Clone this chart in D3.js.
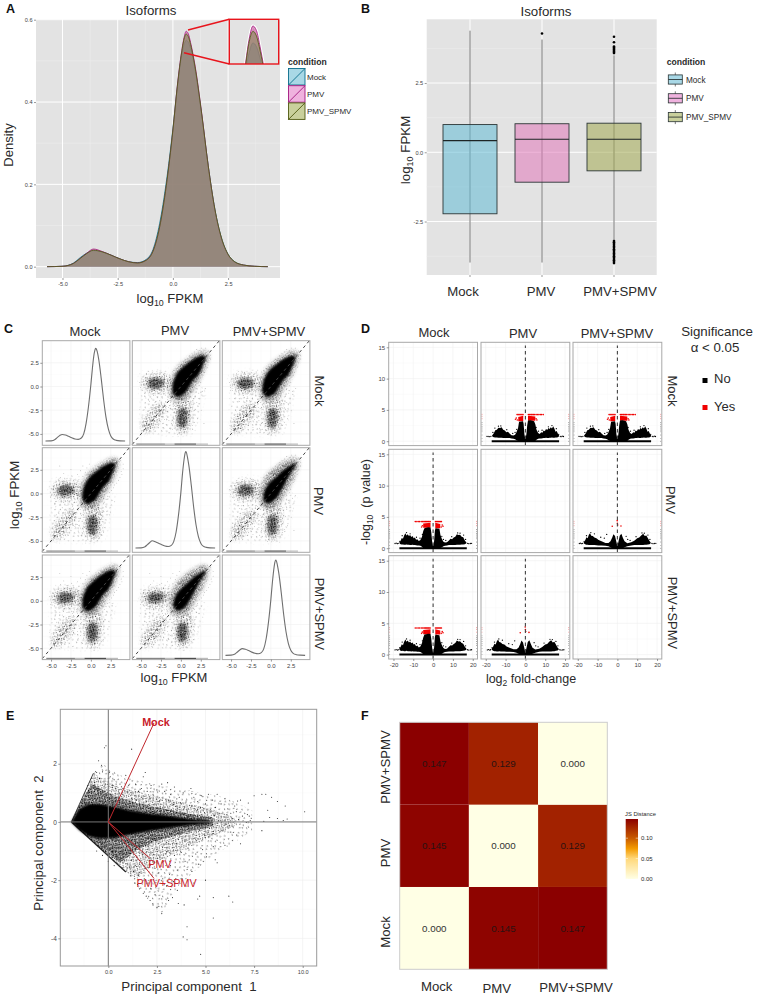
<!DOCTYPE html>
<html>
<head>
<meta charset="utf-8">
<script src="https://cdn.jsdelivr.net/npm/d3@7"></script>
<style>
  html, body { margin: 0; padding: 0; background: #fff; }
  svg { display: block; }
  text { font-family: "Liberation Sans", Arial, sans-serif; white-space: pre; }
</style>
</head>
<body>
<svg id="fig" width="757" height="996"></svg>
<script>
// ---- values ----
var conditions = ["Mock", "PMV", "PMV+SPMV"];
var legendNames = ["Mock", "PMV", "PMV_SPMV"];

// A: density curves
var densityX =    [-5.7, -5, -4.5, -4.2, -3.9, -3.6, -3.2, -2.8, -2.4, -2, -1.6, -1.2, -0.9, -0.6, -0.3, 0, 0.2, 0.4, 0.5, 0.6, 0.7, 0.8, 1, 1.3, 1.6, 1.9, 2.2, 2.5, 2.8, 3.2, 3.7, 4.3];
var densityMock = [0, 0.001, 0.009, 0.022, 0.033, 0.039, 0.036, 0.028, 0.019, 0.012, 0.01, 0.018, 0.042, 0.105, 0.205, 0.335, 0.435, 0.515, 0.538, 0.55, 0.545, 0.53, 0.48, 0.37, 0.245, 0.14, 0.07, 0.03, 0.012, 0.004, 0.001, 0];
var densityPmv =  [0, 0.001, 0.008, 0.02, 0.033, 0.043, 0.037, 0.028, 0.019, 0.012, 0.009, 0.016, 0.038, 0.095, 0.195, 0.33, 0.44, 0.525, 0.556, 0.572, 0.566, 0.545, 0.49, 0.375, 0.245, 0.138, 0.068, 0.029, 0.011, 0.004, 0.001, 0];
var densitySpmv = [0, 0.001, 0.008, 0.02, 0.032, 0.04, 0.036, 0.028, 0.019, 0.012, 0.009, 0.016, 0.038, 0.097, 0.197, 0.332, 0.438, 0.522, 0.552, 0.565, 0.559, 0.54, 0.486, 0.373, 0.245, 0.14, 0.07, 0.03, 0.012, 0.004, 0.001, 0];
var densityTicksX = [-5, -2.5, 0, 2.5];
var densityMinorX = [-3.75, -1.25, 1.25, 3.75];
var densityTicksY = [0, 0.2, 0.4, 0.6];
var densityMinorY = [0.1, 0.3, 0.5];

// B: boxplots
var boxQ1 = [-2.22, -1.08, -0.67];
var boxMedian = [0.42, 0.47, 0.47];
var boxQ3 = [1.0, 1.03, 1.05];
var whiskerLow = [-3.98, -3.98, -3.18];
var whiskerHigh = [4.39, 4.07, 3.5];
var boxOutliers = [[], [4.29],
  [4.17, 3.97, 3.82, 3.78, 3.74, 3.7, 3.66, 3.62, 3.58, -3.2, -3.25, -3.3, -3.35, -3.4, -3.45, -3.5, -3.55, -3.6, -3.65, -3.7, -3.75, -3.8, -3.85, -3.9, -3.95, -4]];
var boxTicks = [-2.5, 0, 2.5];
var boxMinor = [-3.75, -1.25, 1.25, 3.75];

// stipple tile for the overplotted clouds, offsets within one tile
var stippleDots = [[.03,.07],[.17,.02],[.29,.11],[.41,.04],[.55,.09],[.68,.01],[.79,.13],[.93,.06],[.08,.19],[.22,.24],[.36,.17],[.49,.22],[.61,.18],[.74,.26],[.87,.2],[.98,.28],[.02,.33],[.15,.38],[.27,.31],[.43,.36],[.56,.3],[.66,.39],[.81,.34],[.92,.41],[.09,.47],[.21,.52],[.34,.45],[.47,.49],[.59,.44],[.72,.51],[.85,.47],[.97,.54],[.04,.6],[.18,.65],[.3,.58],[.39,.63],[.53,.57],[.65,.62],[.77,.59],[.9,.66],[.12,.73],[.24,.78],[.35,.71],[.46,.76],[.58,.7],[.7,.75],[.83,.72],[.96,.79],[.01,.85],[.14,.9],[.26,.84],[.38,.89],[.5,.83],[.63,.88],[.75,.82],[.88,.91],[.07,.97],[.2,.95],[.32,.99],[.44,.94],[.57,.96],[.69,.93],[.82,.98],[.94,.95]];

// C: pairwise scatter, dense parts as outlines in data units, sparse points one by one
var pairTicks = [-5, -2.5, 0, 2.5];
var pairMinor = [-3.75, -1.25, 1.25, 3.75];
var sparseField = [[-5.1,1.2],[-5,-1],[-4.9,-4.8],[-3,-5],[1.3,-5],[2.4,-2.5],[3,-.2],[1.2,-.4],[-.6,-1],[-1,1.4],[-3,1.7]];
var cloudHalo = [[-1.3,-1],[-1.2,.5],[-.6,1.8],[.4,2.6],[1.6,3.3],[2.9,3.75],[3.5,3.3],[3.1,2.1],[2.5,1],[1.9,.2],[1.3,-.7],[.3,-1.4],[-.7,-1.5]];
var cloudCore = [[-1.05,-.6],[-.95,.5],[-.4,1.5],[.4,2.15],[1.3,2.75],[2.5,3.25],[3.1,3.05],[2.7,2.1],[2.2,1.2],[1.6,.7],[1.1,.05],[.5,-.7],[-.4,-1.1]];
var cloudTight = [[-.95,-.6],[-.75,.4],[-.15,1.15],[.65,1.75],[1.7,2.55],[2.9,3.15],[3.1,2.95],[2.4,2.05],[1.8,1.1],[1.3,.35],[.85,-.3],[.3,-.8],[-.4,-1.05]];
var leftClusterWide = [[-4.9,.3],[-4.2,1.1],[-3,1.3],[-1.7,1.1],[-1,.6],[-1.3,-.2],[-2.5,-.6],[-3.8,-.7]];
var leftClusterDark = [[-4.2,.3],[-3.7,.8],[-2.9,.85],[-2.2,.6],[-2.3,.05],[-3.1,-.2],[-3.8,-.15]];
var bottomClusterWide = [[-.6,-1.3],[-.7,-3],[-.6,-4.3],[.2,-4.9],[1,-4.4],[1.3,-3],[1.3,-1.5],[.6,-1]];
var bottomClusterDark = [[-.3,-2.6],[-.4,-3.6],[-.1,-4.3],[.5,-4.2],[.8,-3.4],[.7,-2.5],[.2,-2.3]];
var lowerClusterWide = [[-4.7,-4.9],[-4.9,-3.9],[-3.8,-2.6],[-2.7,-1.8],[-1.9,-2.3],[-2.6,-3.4],[-3.6,-4.5]];
var scatterStray = [
  [-5.2,.4],[-5.05,-.1],[-4.95,.8],[-4.8,-.4],[-4.7,.2],[-4.65,1.1],[-4.55,-.7],[-4.5,.55],[-4.4,-1.2],[-4.3,1.35],[-4.25,-.2],[-4.1,1.6],[-4,-.9],[-3.95,-1.6],[-3.85,1.15],[-3.7,-.55],[-3.65,-1.3],[-3.6,1.5],[-3.5,-2],[-3.45,-.95],[-3.3,1.35],[-3.25,-1.7],[-3.2,-.5],[-3.1,-2.3],[-3,1.55],[-2.95,-1.1],[-2.85,-.7],[-2.8,-2.05],[-2.7,1.3],[-2.65,-1.5],[-2.5,-.85],[-2.45,1.5],[-2.4,-2.4],[-2.3,-1.2],[-2.2,1.25],[-2.15,-.5],[-2.05,-1.85],[-2,1.4],[-1.95,-.9],[-1.85,-2.6],[-1.8,1.1],[-1.7,-1.35],[-1.6,-.4],[-1.55,-2.2],[-1.45,.95],[-1.4,-.85],[-1.3,-1.7],[-1.25,-3],[-1.15,-1.1],[-1.1,-2.4],[-1,-.8],[-.95,-3.4],[-.9,-1.8],[-.85,1.4],[-.8,-2.7],[-.7,-1.3],
  [-4.75,-4.6],[-4.6,-3.7],[-4.55,-4.2],[-4.4,-3.2],[-4.35,-4.7],[-4.25,-3.8],[-4.15,-2.9],[-4.1,-4.3],[-3.95,-3.4],[-3.9,-2.5],[-3.8,-4.4],[-3.75,-3.1],[-3.65,-3.9],[-3.55,-2.7],[-3.5,-3.5],[-3.4,-4.5],[-3.35,-2.2],[-3.25,-3.2],[-3.15,-4],[-3.05,-2.8],[-2.95,-3.5],[-2.9,-2.1],[-2.8,-4.1],[-2.7,-3],[-2.6,-2.5],[-2.55,-3.7],[-2.45,-1.9],[-2.35,-3.2],[-2.25,-4.3],[-2.15,-2.8],[-2.05,-3.5],[-1.95,-2.2],[-1.85,-4],[-1.75,-3.1],[-1.65,-2.6],[-1.5,-3.6],[-1.4,-4.4],[-1.35,-2.3],[-1.2,-3.9],[-1.05,-4.5],[-.95,-2.1],
  [-.65,-3.9],[-.6,-2.4],[-.55,-4.6],[-.45,-1.7],[-.4,-5.05],[-.3,-1.4],[-.2,-4.9],[0,-1.8],[.1,-5.1],[.3,-1.2],[.5,-4.9],[.75,-4.7],[.85,-1.6],[1,-2.6],[1.05,-3.9],[1.15,-4.5],[1.2,-1.1],[1.3,-3.3],[1.4,-2.2],[1.45,-4.1],[1.5,-1.5],[1.6,-3],[1.7,-3.8],[1.8,-1],[1.85,-2.4],[2,-1.7],[2.1,-3.4],[2.25,-.7],[2.4,-1.3],[2.55,-2.5],[2.7,-.5],[2.9,-1],[3.1,-.2],[2.9,-3.9],
  [-.9,1.7],[-.6,1.9],[-.3,2.1],[-.1,1.65],[.1,2.35],[.3,2.6],[.35,2],[.6,2.85],[.9,2.95],[1.1,3.25],[1.4,3.45],[1.7,3.65],[2,3.9],[2.3,3.8],[2.6,4.05],[3.1,4.05],[3.5,3.75],[3.7,3.3],[3.75,2.9],[3.5,2.5],[3.3,2],[3,1.5],[2.8,1.2],[2.5,.4],[2.3,.1],[2,-.25],[1.9,.45]
];
var rugRanges = [[-5.6,-2,0.55], [-2,-0.8,0.3], [-0.8,1.9,0.8], [1.9,3.4,0.3]];

// D: volcano plots as [log2 fc, lower edge, upper edge]
var volcanoTicksX = [-20, -10, 0, 10, 20];
var volcanoMinorX = [-15, -5, 5, 15];
var volcanoTicksY = [0, 5, 10, 15];
var volcanoMinorY = [2.5, 7.5, 12.5];
var baselineExtent = [-17, 17];
var bandWide = [[-17,.78,.92],[-16.4,.62,1.2],[-15.8,.58,1.65],[-15.2,.6,1.5],[-14.6,.55,2.05],[-14,.55,2.4],[-13.4,.6,2.05],[-12.8,.55,2.25],[-12.2,.55,1.95],[-11.6,.52,2.1],[-11,.5,1.8],[-10.4,.55,1.95],[-9.8,.5,1.6],[-9.2,.5,1.7],[-8.6,.48,1.35],[-8,.45,1.45],[-7.2,.45,1.15],[-6.4,.4,1.3],[-5.6,.25,1.85],[-5,.05,2.7],[-4.4,0,3.2],[-3.6,0,3.25],[-2.5,0,3.35],[-1.3,0,3.3],[-.9,0,2.5],[-.5,0,1.1],[0,0,.35],[.5,0,1.1],[.9,0,2.8],[1.2,0,3.2],[2.2,0,3.15],[3.2,0,3.1],[3.7,.05,2.1],[4.5,.15,1.45],[5.2,.3,1.05],[6,.4,.9],[7,.45,.95],[8,.5,1.25],[8.8,.5,1.5],[9.6,.5,1.45],[10.4,.5,1.7],[11.2,.52,1.85],[12,.55,2.25],[12.8,.55,2.1],[13.6,.55,2.15],[14.4,.58,1.85],[15.2,.6,1.75],[16,.65,1.25],[16.8,.78,.92]];
var bandNarrow = [[-17,.78,.92],[-16.3,.62,1.25],[-15.6,.55,1.75],[-15,.55,1.6],[-14.4,.5,2.15],[-13.8,.5,2.4],[-13.2,.52,2],[-12.4,.5,1.95],[-11.6,.5,1.7],[-10.6,.48,1.6],[-9.5,.45,1.3],[-8,.45,1.1],[-6,.4,.85],[-4.5,.3,.85],[-3.5,.15,1.1],[-2.6,0,1.7],[-2,0,2.25],[-1.2,0,1.95],[-.5,0,1],[0,0,.3],[.5,0,1],[1.2,0,2],[2,0,2.3],[2.8,0,1.65],[3.6,.15,1.1],[5,.3,.8],[7,.45,.95],[8.5,.5,1.2],[10,.5,1.6],[11,.5,1.7],[12,.5,2.05],[13,.5,2.3],[13.8,.55,1.95],[14.6,.55,2.05],[15.4,.6,1.6],[16.2,.65,1.15],[16.8,.78,.92]];
var volcanoStrayBlack = [[-19.2,.75],[-18.6,.8],[-18,.72],[-17.6,.78],[-16.8,1.1],[-15.6,2],[-13.4,2.5],[-11.6,2.3],[-8.4,1.75],[-6.6,1.6],[-5.4,2.2],[4.4,1.9],[5.2,1.4],[6.4,1.25],[9.4,1.85],[12.4,2.45],[13.6,2.4],[15.4,2.1],[16.4,1.4],[17.4,.78],[18,.72],[18.8,.75],[19.4,.78]];
var redBlocksMany = [[[-5,3.25,3.95],[-1.3,3.25,4.05]], [[1.1,3.2,4.05],[3.6,3.2,3.85]]];
var redBlocksFew = [];
var volcanoRedMany = [[-9,4.25],[-8.2,4.25],[-7.5,4.25],[-6.8,4.25],[-6,4.25],[-5.4,4.25],[-4.7,4.25],[-4.2,4.25],[-3.8,4.25],[-3.3,4.25],[-2.9,4.25],[-2.4,4.25],[-2,4.25],[-1.5,4.25],[1.2,4.25],[1.7,4.25],[2.2,4.25],[2.7,4.25],[3.2,4.25],[3.7,4.25],[4.2,4.25],[4.6,3.7],[4.1,3.4],[5,3.5],[-5.4,3.6],[-5.8,3.4]];
var volcanoRedFew = [[-2.6,3.5],[-.1,4.4],[0,4],[.15,3.7],[1.8,3.55]];
var edgeBlackY = [0, .45, 1, 1.5, 1.8, 2.1, 2.4, 2.7, 3];
var edgeRedY = [3.6, 4, 4.3];

// E: biplot
var pcaTicksX = [0, 2.5, 5, 7.5, 10];
var pcaMinorX = [-1.25, 1.25, 3.75, 6.25, 8.75];
var pcaTicksY = [-4, -2, 0, 2];
var pcaMinorY = [-3, -1, 1, 3];
var pcaFan = [[-1.9,0],[-.77,1.67],[-.3,2],[.6,1.6],[2,1.35],[4,1.1],[6,.85],[7.4,.4],[7.4,-.3],[6,-.9],[4.6,-1.6],[3.6,-2.2],[2.75,-3.15],[2.2,-2.8],[.9,-1.72]];
var pcaHalo = [[-1.9,0],[-.77,1.67],[-.3,1.5],[.5,1.2],[1.5,1.05],[2.7,.85],[4,.65],[5.5,.4],[6.5,.15],[6.5,-.15],[5.2,-.55],[3.5,-1.05],[2.2,-1.5],[1.5,-1.95],[.9,-1.72]];
var pcaInner = [[-1.9,0],[-1.4,.7],[-.85,1.3],[-.3,1.1],[.5,.85],[1.5,.65],[2.7,.48],[4,.3],[5.4,.15],[5.4,-.15],[4,-.36],[2.7,-.6],[1.5,-.95],[.6,-1.4],[-.3,-.98],[-1,-.55]];
var pcaCore = [[-1.9,0],[-1.5,.45],[-1,.62],[-.4,.62],[.3,.52],[1.2,.38],[2.2,.28],[3.2,.2],[4.2,.11],[5.2,.05],[5.2,-.05],[4.2,-.11],[3.2,-.2],[2.2,-.3],[1.2,-.42],[.3,-.55],[-.4,-.58],[-1,-.5],[-1.5,-.28]];
var pcaUpperEdge = [[-1.9,0],[-.77,1.67]];
var pcaLowerEdge = [[-1.9,0],[.9,-1.72]];
var pcaVectors = [[2.35,3.4], [2.14,-1.25], [2.35,-1.94]];
var pcaLabelAt = [[2.45,3.42], [2.66,-1.45], [3,-2.1]];
var pcaStray = [
  [-.2,2.55],[-.12,2.62],[1.2,2.5],[-.5,2.1],[-.35,1.95],[.05,1.7],[.1,1.55],[.9,1.6],[1.9,1.7],[1.8,1.55],[.6,1.3],[.3,1.45],[.75,1.15],[1.05,1.25],[1.4,1.3],[1.55,1.05],[1.7,1.15],[2,1.05],[2.2,1.25],[2.3,.95],[2.5,1.1],[2.75,1.3],[2.9,1.05],[3.05,1.35],[3.2,.95],[3.4,1.2],[3.65,.85],[3.85,1],[4,.72],[4.25,1.15],[4.4,.85],[4.6,.7],[4.8,.9],[5,.62],[5.15,.95],[5.35,.75],[5.5,.5],[5.6,.95],[5.8,.62],[6,.8],[6.15,.45],[6.3,.3],[6.5,.55],[6.65,.72],[6.8,.75],[7.2,.65],[7.25,.2],[7.5,.9],[7.9,.95],[8.1,.95],[8.4,.85],[8.7,.7],[9.1,.55],[10.1,.35],[9.2,.1],[9,.05],[8.7,.12],[8.2,.4],[8.3,.15],[8,.02],[7.9,-.3],[7.3,.05],
  [2.6,.7],[2.85,.55],[3.1,.75],[3.35,.6],[3.55,.45],[3.75,.62],[4.05,.4],[4.3,.55],[4.55,.38],[4.75,.5],[4.95,.32],[5.25,.42],[5.45,.22],[5.7,.3],[5.95,.18],[6.1,.25],[6.4,.12],[6.7,.08],[6.9,.2],[7.1,-.02],[2.7,-.55],[3,-.7],[3.25,-.5],[3.5,-.75],[3.7,-.42],[3.95,-.62],[4.2,-.35],[4.45,-.55],[4.7,-.28],[4.95,-.46],[5.2,-.22],[5.4,-.4],[5.6,-.12],[5.85,-.3],[6.05,-.08],[6.3,-.35],[6.6,-.45],[6.8,-.75],[6,-.8],[5.9,-.2],[5.5,-1.3],[5.6,-1.4],[5.4,-.85],
  [2.5,-.95],[2.65,-1.2],[2.85,-1.35],[3.05,-1],[3.2,-1.5],[3.4,-1.15],[3.55,-1.65],[3.75,-1.05],[3.95,-1.35],[4.1,-.9],[4.3,-1.7],[4.5,-1.1],[4.65,-1.45],[4.85,-.95],[5.05,-1.2],[2.4,-1.6],[2.6,-1.75],[2.8,-1.95],[3,-2.2],[3.15,-1.8],[3.35,-2.05],[3.55,-2.35],[3.8,-1.95],[4,-2.2],[4.4,-2.1],[5,-2],[4.7,-2.55],[4.6,-2.65],[3.9,-2.85],[3.6,-2.8],[3.1,-2.7],[2.6,-2.9],[2.75,-3.15],[2.5,-2.95],[2.3,-2.85],[2.15,-2.7],[1.95,-2.55],[1.8,-2.45],[1.6,-2.3],[2.2,-2.3],[2.4,-2.5],[3.3,-2.6],[6.2,-2.55],[6.4,-2.75],[5.4,-2.6],[5.4,-3.3],[4.05,-3.6],[3.85,-3.95],[4.05,-4.05],[4.75,-4.55],
  [-1.05,1.25],[-1,1.05],[-.85,1.5],[-.7,1.35],[-.6,1.7],[-.45,1.5],[-.3,1.72],[-.15,1.3],[0,1.5],[.2,1.25],[.4,1.3],[.55,1],[.75,.95],[1,1],[1.2,.8],[1.45,.75],[1.7,.85],[1.95,.7],[2.15,.8],[2.4,.62],[.95,-1.05],[1.2,-1.3],[1.4,-.95],[1.6,-1.45],[1.75,-1.1],[1.9,-1.6],[2.05,-.85],[2.25,-1.05],[1.1,-1.55],[.7,-1.25],[.45,-1.2],[.2,-1.05],[1.3,-1.7],[1.55,-1.85],[1.85,-1.95],[2.05,-2.1],[1.15,-1.85],[1.35,-2.1],[1.5,-2.15],[-.6,-1],[-.3,-1.15],[0,-1.35],[.3,-1.5]
];

// F: distance matrix, row order is bottom to top
var jsMatrix = [[0, 0.145, 0.147], [0.145, 0, 0.129], [0.147, 0.129, 0]];
var jsStops = [0, 0.05, 0.075, 0.1, 0.147];
var jsColors = ["#ffffe5", "#ffd87a", "#f39a00", "#c85a00", "#8b0000"];
var jsTicks = [0, 0.05, 0.1];

// ---- shared bits ----
var svg = d3.select("#fig");
var defs = svg.append("defs");
function addBlur(id, amount) {
  defs.append("filter").attr("id", id)
      .attr("x", "-20%").attr("y", "-20%").attr("width", "140%").attr("height", "140%")
    .append("feGaussianBlur").attr("stdDeviation", amount);
}
addBlur("soft", 1.0);
addBlur("edge", 2.0);
addBlur("tightEdge", 0.6);
addBlur("fine", 0.35);

function addStipple(id, tile, r, angle) {
  var p = defs.append("pattern").attr("id", id)
      .attr("patternUnits", "userSpaceOnUse")
      .attr("width", tile).attr("height", tile)
      .attr("patternTransform", "rotate(" + angle + ")");
  p.selectAll("circle").data(stippleDots).enter().append("circle")
    .attr("cx", function(d) { return d[0] * tile; })
    .attr("cy", function(d) { return d[1] * tile; })
    .attr("r", r).attr("fill", "#000");
}
addStipple("stipDense", 11, 0.5, 17);
addStipple("stipMid", 19, 0.5, 41);
addStipple("stipThin", 34, 0.5, 67);

// fills an outline with a stipple tile, the outline edge fading out
var maskCount = 0;
function stipple(g, d, patternId, box, opacity, edge) {
  var id = "cloudMask" + (maskCount++);
  var m = defs.append("mask").attr("id", id).attr("maskUnits", "userSpaceOnUse")
      .attr("x", box[0]).attr("y", box[1]).attr("width", box[2]).attr("height", box[3]);
  m.append("path").attr("d", d).attr("fill", "#fff").attr("filter", "url(#" + (edge || "edge") + ")");
  g.append("rect").attr("x", box[0]).attr("y", box[1]).attr("width", box[2]).attr("height", box[3])
    .attr("fill", "url(#" + patternId + ")").attr("mask", "url(#" + id + ")").attr("opacity", opacity || 1);
}

function label(x, y, txt, size, opts) {
  opts = opts || {};
  var t = svg.append("text")
      .attr("x", x).attr("y", y)
      .attr("font-size", size)
      .attr("fill", opts.fill || "#2a2a2a")
      .attr("font-weight", opts.weight || "normal")
      .attr("text-anchor", opts.anchor || "middle");
  if (opts.rotate !== undefined) t.attr("transform", "rotate(" + opts.rotate + " " + x + " " + y + ")");
  var parts = Array.isArray(txt) ? txt : [[txt, false]];
  var wasSub = false;
  parts.forEach(function(p) {
    var s = t.append("tspan").text(p[0]);
    if (p[1]) s.attr("font-size", size * 0.68).attr("dy", size * 0.25);
    else if (wasSub) s.attr("dy", -size * 0.25);
    wasSub = p[1];
  });
  return t;
}

function gridLines(g, x, y, xMajor, xMinor, yMajor, yMinor, majorColor, minorColor, majorW, minorW) {
  var xr = x.range(), yr = y.range();
  function vLines(vals, col, w) {
    g.append("g").selectAll("line").data(vals).enter().append("line")
      .attr("x1", function(d) { return x(d); }).attr("x2", function(d) { return x(d); })
      .attr("y1", yr[0]).attr("y2", yr[1])
      .attr("stroke", col).attr("stroke-width", w);
  }
  function hLines(vals, col, w) {
    g.append("g").selectAll("line").data(vals).enter().append("line")
      .attr("y1", function(d) { return y(d); }).attr("y2", function(d) { return y(d); })
      .attr("x1", xr[0]).attr("x2", xr[1])
      .attr("stroke", col).attr("stroke-width", w);
  }
  vLines(xMinor, minorColor, minorW); hLines(yMinor, minorColor, minorW);
  vLines(xMajor, majorColor, majorW); hLines(yMajor, majorColor, majorW);
}

function axisB(g, x, y0, ticks, fmt, size, color) {
  var a = g.append("g").attr("transform", "translate(0," + y0 + ")")
      .call(d3.axisBottom(x).tickValues(ticks).tickSize(2).tickPadding(2).tickFormat(fmt));
  a.select(".domain").remove();
  a.selectAll("line").attr("stroke", "#555").attr("stroke-width", 0.6);
  a.selectAll("text").attr("font-size", size).attr("fill", color);
  return a;
}
function axisL(g, y, x0, ticks, fmt, size, color) {
  var a = g.append("g").attr("transform", "translate(" + x0 + ",0)")
      .call(d3.axisLeft(y).tickValues(ticks).tickSize(2).tickPadding(1.5).tickFormat(fmt));
  a.select(".domain").remove();
  a.selectAll("line").attr("stroke", "#555").attr("stroke-width", 0.6);
  a.selectAll("text").attr("font-size", size).attr("fill", color);
  return a;
}
var fmt1 = function(d) { return d.toFixed(1); };
var fmt0 = function(d) { return d.toFixed(0); };

// panel letters
[["A",6,13],["B",361,13],["C",4,333],["D",361,333],["E",6,720],["F",361,720]].forEach(function(l) {
  label(l[1], l[2], l[0], 12.5, {anchor: "start", weight: "bold", fill: "#111"});
});

var fillCols = ["#2a9cc0", "#c8509a", "#8a8f5a"];
var lineCols = ["#0a6d8a", "#a0167e", "#4f5a10"];
var keyCols = ["#a9d8e6", "#efb2de", "#c9d09c"];
var boxCols = ["#62bbd5", "#e178b9", "#a2a950"];
var densitySeries = [densityMock, densityPmv, densitySpmv];

// ---- A ----
(function() {
  var g = svg.append("g");
  var x = d3.scaleLinear().domain([-6.2, 4.85]).range([36, 280]);
  var y = d3.scaleLinear().domain([-0.0275, 0.601]).range([278, 19.3]);
  g.append("rect").attr("x", 36).attr("y", 19.3).attr("width", 244).attr("height", 258.7).attr("fill", "#e3e3e3");
  gridLines(g, x, y, densityTicksX, densityMinorX, densityTicksY, densityMinorY, "#fff", "#eeeeee", 1, 0.5);

  function drawCurves(parent, sx, sy, base) {
    densitySeries.forEach(function(vals, i) {
      var area = d3.area()
          .x(function(d, j) { return sx(densityX[j]); })
          .y0(sy(base)).y1(function(d) { return sy(d); })
          .curve(d3.curveMonotoneX);
      var line = d3.line()
          .x(function(d, j) { return sx(densityX[j]); })
          .y(function(d) { return sy(d); })
          .curve(d3.curveMonotoneX);
      parent.append("path").attr("d", area(vals)).attr("fill", fillCols[i]).attr("fill-opacity", 0.6);
      parent.append("path").attr("d", line(vals)).attr("fill", "none").attr("stroke", lineCols[i]).attr("stroke-width", 0.8);
    });
  }
  var halo = d3.line().x(function(d, j) { return x(densityX[j]); }).y(function(d) { return y(d); }).curve(d3.curveMonotoneX);
  g.append("path").attr("d", halo(densityPmv)).attr("fill", "none").attr("stroke", "#f2f2f2").attr("stroke-width", 1.6);
  drawCurves(g, x, y, 0);

  axisB(g, x, 278, densityTicksX, fmt1, 5.6, "#444");
  axisL(g, y, 36, densityTicksY, fmt1, 5.6, "#444");

  // inset on the peak
  defs.append("clipPath").attr("id", "insetClip").append("rect")
      .attr("x", 229.3).attr("y", 19.3).attr("width", 49.4).attr("height", 44.7);
  var ix = d3.scaleLinear().domain([-0.056, 1.317]).range([229.3, 278.7]);
  var iy = d3.scaleLinear().domain([0.5228, 0.5807]).range([64, 19.3]);
  var inset = g.append("g").attr("clip-path", "url(#insetClip)");
  inset.append("rect").attr("x", 229.3).attr("y", 19.3).attr("width", 49.4).attr("height", 44.7).attr("fill", "#e3e3e3");
  var iHalo = d3.line().x(function(d, j) { return ix(densityX[j]); }).y(function(d) { return iy(d); }).curve(d3.curveMonotoneX);
  inset.append("path").attr("d", iHalo(densityPmv)).attr("fill", "none").attr("stroke", "#fff").attr("stroke-width", 3);
  drawCurves(inset, ix, iy, 0.5);
  g.append("rect").attr("x", 229.3).attr("y", 19.3).attr("width", 49.4).attr("height", 44.7)
    .attr("fill", "none").attr("stroke", "#e8141c").attr("stroke-width", 1.4);
  g.append("path").attr("d", "M188,30L229.3,19.3M184,52.7L229.3,64").attr("stroke", "#e8141c").attr("stroke-width", 1.4).attr("fill", "none");

  label(151, 15, "Isoforms", 13.3);
  label(13, 145, "Density", 13, {rotate: -90});
  label(170, 303, [["log", false], ["10", true], [" FPKM", false]], 13);

  // legend
  label(288, 65, "condition", 8.6, {anchor: "start", weight: "bold"});
  legendNames.forEach(function(name, i) {
    var top = 68.5 + i * 17.2;
    g.append("rect").attr("x", 288.5).attr("y", top).attr("width", 16.5).attr("height", 16.5)
      .attr("fill", keyCols[i]).attr("stroke", lineCols[i]).attr("stroke-width", 0.9);
    g.append("line").attr("x1", 288.5).attr("y1", top + 16.5).attr("x2", 305).attr("y2", top)
      .attr("stroke", lineCols[i]).attr("stroke-width", 0.9);
    label(307, top + 11.5, name, 8, {anchor: "start"});
  });
})();

// ---- B ----
(function() {
  var g = svg.append("g");
  var x = d3.scaleBand().domain(conditions).range([434, 650]);
  var y = d3.scaleLinear().domain([-4.43, 4.8]).range([275, 19.3]);
  g.append("rect").attr("x", 426.7).attr("y", 19.3).attr("width", 230).attr("height", 255.7).attr("fill", "#e3e3e3");
  var xc = function(c) { return x(c) + x.bandwidth() / 2; };
  conditions.forEach(function(c) {
    g.append("line").attr("x1", xc(c)).attr("x2", xc(c)).attr("y1", 19.3).attr("y2", 275).attr("stroke", "#fff").attr("stroke-width", 1);
  });
  var yLines = g.append("g");
  boxMinor.forEach(function(v) {
    yLines.append("line").attr("x1", 426.7).attr("x2", 656.7).attr("y1", y(v)).attr("y2", y(v)).attr("stroke", "#eeeeee").attr("stroke-width", 0.5);
  });
  boxTicks.forEach(function(v) {
    yLines.append("line").attr("x1", 426.7).attr("x2", 656.7).attr("y1", y(v)).attr("y2", y(v)).attr("stroke", "#fff").attr("stroke-width", 1);
  });

  var boxW = x.bandwidth() * 0.75;
  conditions.forEach(function(c, i) {
    g.append("line").attr("x1", xc(c)).attr("x2", xc(c))
      .attr("y1", y(whiskerHigh[i])).attr("y2", y(whiskerLow[i]))
      .attr("stroke", "#777").attr("stroke-width", 1);
    g.append("rect").attr("x", xc(c) - boxW / 2).attr("y", y(boxQ3[i]))
      .attr("width", boxW).attr("height", y(boxQ1[i]) - y(boxQ3[i]))
      .attr("fill", boxCols[i]).attr("fill-opacity", 0.55)
      .attr("stroke", "#2a3535").attr("stroke-width", 0.9);
    g.append("line").attr("x1", xc(c) - boxW / 2).attr("x2", xc(c) + boxW / 2)
      .attr("y1", y(boxMedian[i])).attr("y2", y(boxMedian[i]))
      .attr("stroke", "#1d2525").attr("stroke-width", 1.1);
    g.append("g").selectAll("circle").data(boxOutliers[i]).enter().append("circle")
      .attr("cx", xc(c)).attr("cy", function(d) { return y(d); }).attr("r", 1.3).attr("fill", "#000");
  });

  var ax = g.append("g").attr("transform", "translate(0,275)")
      .call(d3.axisBottom(x).tickSize(2).tickFormat(""));
  ax.select(".domain").remove();
  ax.selectAll("line").attr("stroke", "#555").attr("stroke-width", 0.6);
  axisL(g, y, 426.7, boxTicks, fmt1, 5.6, "#444");

  var shift = [-7, -1, 6];
  conditions.forEach(function(c, i) { label(xc(c) + shift[i], 296, c, 13.2); });
  label(546, 16, "Isoforms", 13.3);
  label(410, 150, [["log", false], ["10", true], [" FPKM", false]], 13.3, {rotate: -90});

  label(666.7, 65, "condition", 8.6, {anchor: "start", weight: "bold"});
  legendNames.forEach(function(name, i) {
    var cy = 79.5 + i * 18.8;
    g.append("line").attr("x1", 675.3).attr("x2", 675.3).attr("y1", cy - 7).attr("y2", cy + 7).attr("stroke", "#444").attr("stroke-width", 0.7);
    g.append("rect").attr("x", 668.3).attr("y", cy - 4.6).attr("width", 14).attr("height", 9.2)
      .attr("fill", keyCols[i]).attr("stroke", "#2a3535").attr("stroke-width", 0.8);
    g.append("line").attr("x1", 668.3).attr("x2", 682.3).attr("y1", cy).attr("y2", cy).attr("stroke", "#1d2525").attr("stroke-width", 0.8);
    label(686, cy + 3, name, 8.2, {anchor: "start"});
  });
})();

// ---- C ----
(function() {
  var colX = [42.3, 132.3, 222.3], colW = 87.6;
  var rowY = [340.7, 447.7, 555], rowH = 104.6;
  var closed = d3.line().curve(d3.curveCardinalClosed.tension(0.3));

  conditions.forEach(function(rowName, r) {
    conditions.forEach(function(colName, c) {
      var g = svg.append("g");
      var x = d3.scaleLinear().domain([-6.1, 4.9]).range([colX[c], colX[c] + colW]);
      var y = d3.scaleLinear().domain([-6.2, 4.83]).range([rowY[r] + rowH, rowY[r]]);
      var box = [colX[c], rowY[r], colW, rowH];
      g.append("rect").attr("x", colX[c]).attr("y", rowY[r]).attr("width", colW).attr("height", rowH).attr("fill", "#fff");
      gridLines(g, x, y, pairTicks, pairMinor, pairTicks, pairMinor, "#f0f0f0", "#f7f7f7", 0.6, 0.4);

      if (r === c) {
        var dy = d3.scaleLinear().domain([0, 0.572]).range([y(-5.75), y(4.42)]);
        var line = d3.line().x(function(d, j) { return x(densityX[j]); }).y(function(d) { return dy(d); }).curve(d3.curveMonotoneX);
        g.append("path").attr("d", line(densitySeries[r])).attr("fill", "none").attr("stroke", "#6f6f6f").attr("stroke-width", 1.1);
      } else {
        var path = function(pts) { return closed(pts.map(function(p) { return [x(p[0]), y(p[1])]; })); };
        var tight = (r === 1 && c === 2) || (r === 2 && c === 1);
        var clouds = g.append("g").attr("filter", "url(#fine)");
        stipple(clouds, path(sparseField), "stipThin", box, 0.55);
        stipple(clouds, path(leftClusterWide), "stipMid", box);
        stipple(clouds, path(leftClusterDark), "stipDense", box);
        stipple(clouds, path(leftClusterDark), "stipMid", box);
        stipple(clouds, path(bottomClusterWide), "stipMid", box);
        stipple(clouds, path(bottomClusterDark), "stipDense", box);
        stipple(clouds, path(bottomClusterDark), "stipMid", box);
        stipple(clouds, path(lowerClusterWide), "stipMid", box);
        stipple(clouds, path(cloudHalo), "stipDense", box);
        var solid = g.append("g").attr("filter", "url(#soft)");
        solid.append("path").attr("d", path(leftClusterDark)).attr("fill", "#000").attr("opacity", 0.3);
        solid.append("path").attr("d", path(bottomClusterDark)).attr("fill", "#000").attr("opacity", 0.3);
        solid.append("path").attr("d", path(tight ? cloudTight : cloudCore)).attr("fill", "#000");

        // lower triangle is the same pair with the axes swapped
        var px = r < c ? function(p) { return x(p[0]); } : function(p) { return x(p[1]); };
        var py = r < c ? function(p) { return y(p[1]); } : function(p) { return y(p[0]); };
        g.append("g").selectAll("circle").data(scatterStray).enter().append("circle")
          .attr("cx", px).attr("cy", py)
          .attr("r", 0.4).attr("fill", "#000").attr("opacity", 0.45);

        g.append("line").attr("x1", x(-6.1)).attr("y1", y(-6.1)).attr("x2", x(4.85)).attr("y2", y(4.85))
          .attr("stroke", "#444").attr("stroke-width", 1).attr("stroke-dasharray", "3,3");

        g.append("g").selectAll("line").data(rugRanges).enter().append("line")
          .attr("x1", function(d) { return x(d[0]); }).attr("x2", function(d) { return x(d[1]); })
          .attr("y1", rowY[r] + rowH - 1.2).attr("y2", rowY[r] + rowH - 1.2)
          .attr("stroke", "#222").attr("stroke-width", 1.2)
          .attr("opacity", function(d) { return d[2]; });
      }
      g.append("rect").attr("x", colX[c]).attr("y", rowY[r]).attr("width", colW).attr("height", rowH)
        .attr("fill", "none").attr("stroke", "#a8a8a8").attr("stroke-width", 1);

      if (r === 2) axisB(g, x, rowY[r] + rowH, pairTicks, fmt1, 6, "#444");
      if (c === 0) axisL(g, y, colX[c], pairTicks, fmt1, 6, "#444");
    });
  });
  label(85, 336, "Mock", 13);
  label(175, 335, "PMV", 13);
  label(269, 336, "PMV+SPMV", 13);
  label(315, 391, "Mock", 13, {rotate: 90});
  label(314, 501, "PMV", 13, {rotate: 90});
  label(315, 614, "PMV+SPMV", 13, {rotate: 90});
  label(19, 495, [["log", false], ["10", true], [" FPKM", false]], 13.3, {rotate: -90});
  label(174, 682, [["log", false], ["10", true], [" FPKM", false]], 13);
})();

// ---- D ----
(function() {
  var colX = [388.7, 481, 573], colW = 88.8;
  var rowY = [342.3, 449.3, 555.7], rowH = 103.3;

  conditions.forEach(function(rowName, r) {
    conditions.forEach(function(colName, c) {
      var g = svg.append("g");
      var x = d3.scaleLinear().domain([-22.4, 22.4]).range([colX[c], colX[c] + colW]);
      var y = d3.scaleLinear().domain([-0.7, 15.8]).range([rowY[r] + rowH, rowY[r]]);
      g.append("rect").attr("x", colX[c]).attr("y", rowY[r]).attr("width", colW).attr("height", rowH).attr("fill", "#fff");
      gridLines(g, x, y, volcanoTicksX, volcanoMinorX, volcanoTicksY, volcanoMinorY, "#f0f0f0", "#f7f7f7", 0.6, 0.4);

      if (r !== c) {
        var wide = (r === 0 || c === 0);
        var sign = r === 0 ? -1 : 1;
        var band = wide ? bandWide : bandNarrow;
        var area = d3.area()
            .x(function(d) { return x(sign * d[0]); })
            .y0(function(d) { return y(d[1]); })
            .y1(function(d) { return y(d[2]); });
        var v = g.append("g").attr("filter", "url(#fine)");
        (wide ? redBlocksMany : redBlocksFew).forEach(function(block) {
          v.append("path").attr("d", area(block)).attr("fill", "#f00000");
        });
        v.append("path").attr("d", area(band)).attr("fill", "#000");
        v.append("line").attr("x1", x(baselineExtent[0])).attr("x2", x(baselineExtent[1]))
          .attr("y1", y(0)).attr("y2", y(0)).attr("stroke", "#000").attr("stroke-width", 2);
        v.append("g").selectAll("circle").data(volcanoStrayBlack).enter().append("circle")
          .attr("cx", function(d) { return x(sign * d[0]); }).attr("cy", function(d) { return y(d[1]); })
          .attr("r", 0.65).attr("fill", "#000");
        v.append("g").selectAll("circle").data(wide ? volcanoRedMany : volcanoRedFew).enter().append("circle")
          .attr("cx", function(d) { return x(sign * d[0]); }).attr("cy", function(d) { return y(d[1]); })
          .attr("r", 0.8).attr("fill", "#f00000");
        // points piled on the two edges of the panel
        [-21.9, 21.9].forEach(function(edge) {
          v.append("g").selectAll("circle").data(edgeBlackY).enter().append("circle")
            .attr("cx", x(edge)).attr("cy", function(d) { return y(d); }).attr("r", 0.45).attr("fill", "#555");
          v.append("g").selectAll("circle").data(edgeRedY).enter().append("circle")
            .attr("cx", x(edge)).attr("cy", function(d) { return y(d); }).attr("r", 0.45).attr("fill", "#f04040");
        });
        g.append("line").attr("x1", x(0)).attr("x2", x(0)).attr("y1", y(-0.7)).attr("y2", y(15.3))
          .attr("stroke", "#444").attr("stroke-width", 1.1).attr("stroke-dasharray", "3.5,3");
      }
      g.append("rect").attr("x", colX[c]).attr("y", rowY[r]).attr("width", colW).attr("height", rowH)
        .attr("fill", "none").attr("stroke", "#a8a8a8").attr("stroke-width", 1);
      if (r === 2) axisB(g, x, rowY[r] + rowH, volcanoTicksX, fmt0, 6, "#444");
      if (c === 0) axisL(g, y, colX[c], volcanoTicksY, fmt0, 6, "#444");
    });
  });
  label(434, 337, "Mock", 13);
  label(523, 338, "PMV", 13);
  label(617, 338, "PMV+SPMV", 13);
  label(668, 391, "Mock", 13, {rotate: 90});
  label(666, 500, "PMV", 13, {rotate: 90});
  label(668, 613, "PMV+SPMV", 13, {rotate: 90});
  label(370, 502, [["-log", false], ["10", true], ["  (p value)", false]], 12.5, {rotate: -90});
  label(531, 683, [["log", false], ["2", true], [" fold-change", false]], 12.5);

  label(717, 336, "Significance", 13.3);
  label(715, 352, "\u03b1 < 0.05", 13.3);
  svg.append("rect").attr("x", 702.5).attr("y", 378).attr("width", 5).attr("height", 5).attr("fill", "#000");
  svg.append("rect").attr("x", 702.5).attr("y", 405).attr("width", 5).attr("height", 5).attr("fill", "#f00000");
  label(714, 383, "No", 13, {anchor: "start"});
  label(714, 411, "Yes", 13, {anchor: "start"});
})();

// ---- E ----
(function() {
  var g = svg.append("g");
  var x = d3.scaleLinear().domain([-2.47, 10.72]).range([60.3, 316.7]);
  var y = d3.scaleLinear().domain([-4.95, 3.87]).range([966, 709.3]);
  var box = [60.3, 709.3, 256.4, 256.7];
  g.append("rect").attr("x", 60.3).attr("y", 709.3).attr("width", 256.4).attr("height", 256.7).attr("fill", "#fff");
  gridLines(g, x, y, pcaTicksX, pcaMinorX, pcaTicksY, pcaMinorY, "#ececec", "#f6f6f6", 0.6, 0.4);

  var poly = d3.line().x(function(p) { return x(p[0]); }).y(function(p) { return y(p[1]); });
  var clouds = g.append("g").attr("filter", "url(#fine)");
  stipple(clouds, poly(pcaFan) + "Z", "stipThin", box, 1, "tightEdge");
  stipple(clouds, poly(pcaHalo) + "Z", "stipMid", box, 1, "tightEdge");
  stipple(clouds, poly(pcaInner) + "Z", "stipDense", box, 1, "tightEdge");
  stipple(clouds, poly(pcaInner) + "Z", "stipMid", box, 1, "tightEdge");
  g.append("path").attr("d", poly(pcaCore) + "Z").attr("fill", "#000").attr("filter", "url(#soft)");
  g.append("path").attr("d", poly(pcaUpperEdge)).attr("stroke", "#000").attr("stroke-width", 0.9).attr("fill", "none").attr("opacity", 0.8);
  g.append("path").attr("d", poly(pcaLowerEdge)).attr("stroke", "#000").attr("stroke-width", 1.2).attr("fill", "none").attr("opacity", 0.85);

  g.append("g").selectAll("circle").data(pcaStray).enter().append("circle")
    .attr("cx", function(d) { return x(d[0]); }).attr("cy", function(d) { return y(d[1]); })
    .attr("r", 0.55).attr("fill", "#000").attr("opacity", 0.85);

  g.append("line").attr("x1", x(0)).attr("x2", x(0)).attr("y1", 709.3).attr("y2", 966).attr("stroke", "#777").attr("stroke-width", 1);
  g.append("line").attr("x1", 60.3).attr("x2", 316.7).attr("y1", y(0)).attr("y2", y(0)).attr("stroke", "#777").attr("stroke-width", 1);

  pcaVectors.forEach(function(v, i) {
    g.append("line").attr("x1", x(0)).attr("y1", y(0)).attr("x2", x(v[0])).attr("y2", y(v[1]))
      .attr("stroke", "#c0272d").attr("stroke-width", 1);
    label(x(pcaLabelAt[i][0]), y(pcaLabelAt[i][1]) + 4, conditions[i], 10.8, {fill: "#c8202a", weight: i === 0 ? "bold" : "normal"});
  });

  g.append("rect").attr("x", 60.3).attr("y", 709.3).attr("width", 256.4).attr("height", 256.7)
    .attr("fill", "none").attr("stroke", "#999").attr("stroke-width", 1);
  axisB(g, x, 966, pcaTicksX, fmt1, 5.6, "#444");
  axisL(g, y, 60.3, pcaTicksY, fmt0, 6.5, "#444");

  label(189, 991, "Principal component  1", 13.3);
  label(43, 843, "Principal component  2", 13.3, {rotate: -90});
})();

// ---- F ----
(function() {
  var g = svg.append("g");
  var x = d3.scaleBand().domain(conditions).range([399.7, 607.3]);
  var y = d3.scaleBand().domain(conditions).range([969.3, 722.3]);
  var color = d3.scaleLinear().domain(jsStops).range(jsColors);

  jsMatrix.forEach(function(row, r) {
    g.append("g").selectAll("rect").data(row).enter().append("rect")
      .attr("x", function(d, c) { return x(conditions[c]); })
      .attr("y", y(conditions[r]))
      .attr("width", x.bandwidth()).attr("height", y.bandwidth())
      .attr("fill", function(d) { return color(d); });
  });
  g.append("rect").attr("x", 399.7).attr("y", 722.3).attr("width", 207.6).attr("height", 247)
    .attr("fill", "none").attr("stroke", "#cccccc").attr("stroke-width", 1);
  jsMatrix.forEach(function(row, r) {
    row.forEach(function(d, c) {
      label(x(conditions[c]) + x.bandwidth() / 2, y(conditions[r]) + y.bandwidth() / 2 + 3.5, d.toFixed(3), 9.8,
        {fill: d > 0 ? "#2b1212" : "#333"});
    });
  });

  label(436.7, 991, "Mock", 13.2);
  label(496.7, 993, "PMV", 13.2);
  label(576, 992, "PMV+SPMV", 13.2);
  label(390, 932, "Mock", 13.2, {rotate: -90});
  label(390, 853, "PMV", 13.2, {rotate: -90});
  label(390, 767, "PMV+SPMV", 13.2, {rotate: -90});

  // colour bar
  var cb = d3.scaleLinear().domain([0, 0.147]).range([879, 819]);
  var grad = defs.append("linearGradient").attr("id", "jsGrad")
      .attr("x1", 0).attr("x2", 0).attr("y1", 1).attr("y2", 0);
  jsStops.forEach(function(s, i) {
    grad.append("stop").attr("offset", s / 0.147).attr("stop-color", jsColors[i]);
  });
  g.append("rect").attr("x", 625.7).attr("y", 819).attr("width", 12.3).attr("height", 60).attr("fill", "url(#jsGrad)");
  jsTicks.forEach(function(t) {
    g.append("line").attr("x1", 625.7).attr("x2", 628).attr("y1", cb(t)).attr("y2", cb(t)).attr("stroke", "#fff").attr("stroke-width", 0.5);
    g.append("line").attr("x1", 635.7).attr("x2", 638).attr("y1", cb(t)).attr("y2", cb(t)).attr("stroke", "#fff").attr("stroke-width", 0.5);
    label(641, cb(t) + 2, t.toFixed(2), 6, {anchor: "start"});
  });
  label(625, 815.5, "JS Distance", 5.8, {anchor: "start"});
})();
</script>
</body>
</html>
